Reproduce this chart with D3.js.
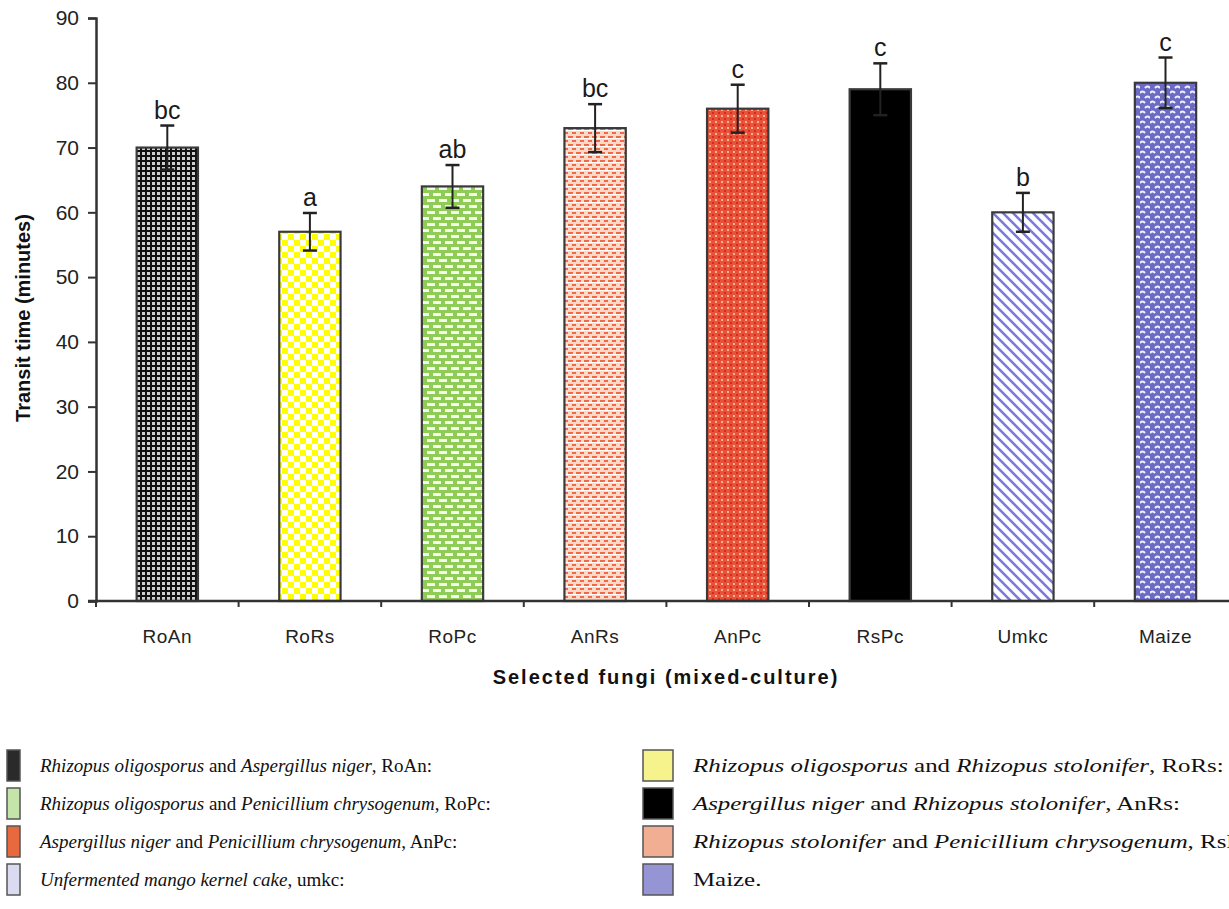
<!DOCTYPE html>
<html>
<head>
<meta charset="utf-8">
<script src="https://cdn.jsdelivr.net/npm/d3@7"></script>
<style>
  body { margin: 0; background: #fff; }
  svg { display: block; }
  .axis text { font-family: Arial, "Liberation Sans", sans-serif; fill: #222; }
  .legend text { font-family: "Liberation Serif", "Times New Roman", serif; fill: #111; }
</style>
</head>
<body>
<div id="chart"></div>
<script>
// chart data
const categories = ['RoAn', 'RoRs', 'RoPc', 'AnRs', 'AnPc', 'RsPc', 'Umkc', 'Maize'];
const transitTime = [70, 57, 64, 73, 76, 79, 60, 80];
const errors = [3.4, 2.9, 3.3, 3.7, 3.7, 4, 3, 3.9];
const letters = ['bc', 'a', 'ab', 'bc', 'c', 'c', 'b', 'c'];
const yTicks = [0, 10, 20, 30, 40, 50, 60, 70, 80, 90];

// legend entries: [text, italic] pieces, swatch colour
const legendLeft = [
  { parts: [['Rhizopus oligosporus', true], [' and ', false], ['Aspergillus niger', true], [', RoAn:', false]], fill: 'RoAn' },
  { parts: [['Rhizopus oligosporus', true], [' and ', false], ['Penicillium chrysogenum', true], [', RoPc:', false]], fill: 'RoPc' },
  { parts: [['Aspergillus niger', true], [' and ', false], ['Penicillium chrysogenum', true], [', AnPc:', false]], fill: 'AnPc' },
  { parts: [['Unfermented mango kernel cake', true], [', umkc:', false]], fill: 'Umkc' },
];
const legendRight = [
  { parts: [['Rhizopus oligosporus', true], [' and ', false], ['Rhizopus stolonifer', true], [', RoRs:', false]], fill: 'RoRs' },
  { parts: [['Aspergillus niger', true], [' and ', false], ['Rhizopus stolonifer', true], [', AnRs:', false]], fill: 'RsPc' },
  { parts: [['Rhizopus stolonifer', true], [' and ', false], ['Penicillium chrysogenum', true], [', RsPc:', false]], fill: 'AnRs' },
  { parts: [['Maize.', false]], fill: 'Maize' },
];
// the legend swatches are small and blurred, so they read as flat tints
const swatchColor = {
  RoAn: '#2a2a2a', RoRs: '#f7f38c', RoPc: '#c4e4aa', AnRs: '#f2ae92',
  AnPc: '#e8693e', RsPc: '#000', Umkc: '#dadaf0', Maize: '#9595d6',
};

const width = 1229;
const height = 909;
const margin = { left: 96, top: 18, bottom: 601 };

const svg = d3.select('#chart').append('svg')
  .attr('width', width)
  .attr('height', height);

// fill patterns for each bar
const defs = svg.append('defs');

function pattern(id, size, bg, draw) {
  const p = defs.append('pattern')
    .attr('id', 'pat-' + id)
    .attr('patternUnits', 'userSpaceOnUse')
    .attr('width', size)
    .attr('height', size);
  p.append('rect').attr('width', size).attr('height', size).attr('fill', bg);
  draw(p);
}

pattern('RoAn', 5, '#cfcfcf', p => {
  p.append('rect').attr('width', 5).attr('height', 2).attr('fill', '#111');
  p.append('rect').attr('width', 2).attr('height', 5).attr('fill', '#111');
});
pattern('RoRs', 12, '#ffff00', p => {
  p.append('rect').attr('x', 0).attr('y', 0).attr('width', 6).attr('height', 6).attr('fill', '#fff');
  p.append('rect').attr('x', 6).attr('y', 6).attr('width', 6).attr('height', 6).attr('fill', '#fff');
});
pattern('RoPc', 12, '#8fcc55', p => {
  p.append('rect').attr('x', 1).attr('y', 1).attr('width', 8).attr('height', 3).attr('fill', '#f4fbee');
  p.append('rect').attr('x', 7).attr('y', 7).attr('width', 8).attr('height', 3).attr('fill', '#f4fbee');
  p.append('rect').attr('x', -5).attr('y', 7).attr('width', 8).attr('height', 3).attr('fill', '#f4fbee');
});
pattern('AnRs', 8, '#ffd8c8', p => {
  p.append('rect').attr('x', 0).attr('y', 0).attr('width', 5).attr('height', 2).attr('fill', '#f06a48');
  p.append('rect').attr('x', 4).attr('y', 4).attr('width', 5).attr('height', 2).attr('fill', '#f06a48');
  p.append('rect').attr('x', 0).attr('y', 2).attr('width', 8).attr('height', 1).attr('fill', '#fff');
});
pattern('AnPc', 6, '#e8523a', p => {
  p.append('rect').attr('x', 1).attr('y', 1).attr('width', 2).attr('height', 2).attr('fill', '#f9b28a');
  p.append('rect').attr('x', 4).attr('y', 4).attr('width', 2).attr('height', 2).attr('fill', '#d62a1a');
});
pattern('RsPc', 4, '#000', () => {});
pattern('Umkc', 10, '#ffffff', p => {
  p.append('path').attr('d', 'M-3,-3 L13,13 M-3,7 L3,13 M7,-3 L13,3')
    .attr('stroke', '#7a7ae0').attr('stroke-width', 2.6);
});
pattern('Maize', 10, '#6b6bc4', p => {
  p.append('path').attr('d', 'M0,3 Q2.5,0 5,3 M5,8 Q7.5,5 10,8')
    .attr('stroke', '#f2f2ff').attr('stroke-width', 2).attr('fill', 'none');
});

// scales
const x = d3.scaleBand()
  .domain(categories)
  .range([margin.left, margin.left + 8 * 142.6])
  .paddingInner(0.57)
  .paddingOuter(0.285);

const y = d3.scaleLinear()
  .domain([0, 90])
  .range([margin.bottom, margin.top]);

// bars
svg.append('g').selectAll('rect')
  .data(categories)
  .join('rect')
  .attr('x', d => x(d))
  .attr('y', (d, i) => y(transitTime[i]))
  .attr('width', x.bandwidth())
  .attr('height', (d, i) => y(0) - y(transitTime[i]))
  .attr('fill', d => 'url(#pat-' + d + ')')
  .attr('stroke', '#3a3a3a')
  .attr('stroke-width', 2.2);

// error bars
const capW = 7;
const err = svg.append('g')
  .attr('stroke', '#222')
  .attr('stroke-width', 2);
categories.forEach((c, i) => {
  const cx = x(c) + x.bandwidth() / 2;
  const hi = y(transitTime[i] + errors[i]);
  const lo = y(transitTime[i] - errors[i]);
  err.append('line').attr('x1', cx).attr('x2', cx).attr('y1', hi).attr('y2', lo);
  err.append('line').attr('x1', cx - capW).attr('x2', cx + capW).attr('y1', hi).attr('y2', hi).attr('stroke-width', 2.5);
  err.append('line').attr('x1', cx - capW).attr('x2', cx + capW).attr('y1', lo).attr('y2', lo).attr('stroke-width', 2.5);
});

// significance letters
svg.append('g').selectAll('text')
  .data(categories)
  .join('text')
  .attr('x', d => x(d) + x.bandwidth() / 2)
  .attr('y', (d, i) => y(transitTime[i] + errors[i]) - 7)
  .attr('text-anchor', 'middle')
  .style('font-family', 'Arial, "Liberation Sans", sans-serif')
  .style('font-size', '25px')
  .attr('fill', '#1a1a1a')
  .text((d, i) => letters[i]);

// y axis
const yAxis = svg.append('g')
  .attr('class', 'axis')
  .attr('transform', `translate(${margin.left},0)`)
  .call(d3.axisLeft(y).tickValues(yTicks).tickSize(8).tickPadding(9));
yAxis.select('.domain').attr('stroke', '#333').attr('stroke-width', 2.5);
yAxis.selectAll('.tick line').attr('stroke', '#333').attr('stroke-width', 2);
yAxis.selectAll('.tick text').style('font-size', '21px');

// x axis: line plus ticks between categories
const xAxisG = svg.append('g').attr('class', 'axis');
xAxisG.append('line')
  .attr('x1', margin.left - 8).attr('x2', width)
  .attr('y1', y(0)).attr('y2', y(0))
  .attr('stroke', '#333').attr('stroke-width', 2.5);
xAxisG.selectAll('.sep')
  .data(d3.range(categories.length))
  .join('line')
  .attr('x1', i => margin.left + i * x.step())
  .attr('x2', i => margin.left + i * x.step())
  .attr('y1', y(0)).attr('y2', y(0) + 6)
  .attr('stroke', '#333').attr('stroke-width', 2);
xAxisG.selectAll('.cat')
  .data(categories)
  .join('text')
  .attr('x', d => x(d) + x.bandwidth() / 2)
  .attr('y', 643)
  .attr('text-anchor', 'middle')
  .style('font-size', '19px')
  .style('letter-spacing', '0.5px')
  .text(d => d);

// axis titles
svg.append('text')
  .attr('x', 666)
  .attr('y', 684)
  .attr('text-anchor', 'middle')
  .style('font-family', 'Arial, "Liberation Sans", sans-serif')
  .style('font-weight', 'bold')
  .style('font-size', '20px')
  .style('letter-spacing', '2px')
  .attr('fill', '#111')
  .text('Selected fungi (mixed-culture)');

svg.append('text')
  .attr('transform', 'translate(30,318) rotate(-90)')
  .attr('text-anchor', 'middle')
  .style('font-family', 'Arial, "Liberation Sans", sans-serif')
  .style('font-weight', 'bold')
  .style('font-size', '20px')
  .attr('fill', '#111')
  .text('Transit time (minutes)');

// legend
const rowY = [766, 804, 842, 880];
const legend = svg.append('g').attr('class', 'legend');

function legendRow(entry, i, swX, swW, textX, stretch) {
  legend.append('rect')
    .attr('x', swX).attr('y', rowY[i] - 16)
    .attr('width', swW).attr('height', 31)
    .attr('fill', swatchColor[entry.fill])
    .attr('stroke', '#555').attr('stroke-width', 1.5);
  const t = legend.append('text')
    .attr('transform', `translate(${textX},${rowY[i] + 6}) scale(${stretch},1)`)
    .style('font-size', '19px');
  entry.parts.forEach(([s, it]) => {
    t.append('tspan').style('font-style', it ? 'italic' : 'normal').text(s);
  });
}
legendLeft.forEach((e, i) => legendRow(e, i, 7, 13, 40, 1));
legendRight.forEach((e, i) => legendRow(e, i, 643, 30, 693, 1.31));
</script>
</body>
</html>
